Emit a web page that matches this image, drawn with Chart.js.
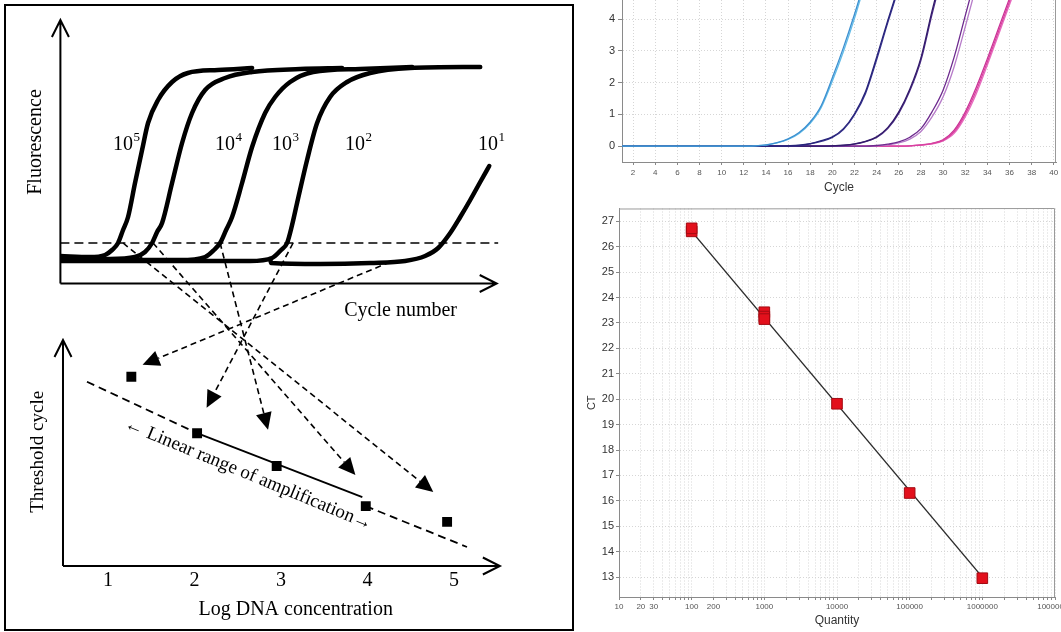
<!DOCTYPE html>
<html>
<head>
<meta charset="utf-8">
<script src="https://cdn.jsdelivr.net/npm/chart.js@4.4.0/dist/chart.umd.min.js"></script>
<style>
  html, body { margin: 0; padding: 0; background: #fff; }
  body { width: 1061px; height: 632px; overflow: hidden; position: relative; }
  #box { position: absolute; left: 4px; top: 4px; width: 570px; height: 627px; box-sizing: border-box; border: 2px solid #000; }
  canvas { position: absolute; }
  #schema { left: 0; top: 0; }
  #amp { left: 585px; top: 0; }
  #std { left: 580px; top: 200px; }
</style>
</head>
<body>
<div id="box"></div>
<canvas id="schema" width="575" height="632"></canvas>
<canvas id="amp" width="476" height="200"></canvas>
<canvas id="std" width="520" height="432"></canvas>
<script>
// ---------- left schematic: amplification curves (cycle, fluorescence) ----------
const cyc1e5 = [0, 3.0, 4.55, 5.27, 5.88, 6.39, 6.9, 7.61, 8.33, 8.94, 9.96, 11.39, 13.0, 16.08, 19.55];
const flu1e5 = [11.0, 10.6, 11.4, 13.4, 16.2, 21.4, 26.6, 40.2, 53.4, 64.2, 73.4, 80.6, 84.2, 85.4, 86.2];
const cyc1e4 = [0, 5.06, 7.61, 8.63, 9.35, 9.86, 10.37, 11.39, 12.41, 13.43, 14.76, 16.8, 19.55, 24.45, 28.73];
const flu1e4 = [9.8, 9.8, 10.6, 12.6, 16.2, 20.6, 24.2, 40.2, 56.2, 68.2, 77.4, 82.2, 84.6, 85.8, 86.2];
const cyc1e3 = [0, 12.2, 14.76, 15.67, 16.29, 16.9, 17.51, 18.53, 19.55, 20.88, 21.9, 23.43, 25.78, 30.57, 35.88];
const flu1e3 = [9.4, 9.4, 10.6, 13.4, 16.2, 21.4, 26.6, 40.2, 54.6, 68.2, 74.6, 80.6, 84.6, 85.8, 86.6];
const cyc1e2 = [0, 19.35, 21.59, 22.51, 23.12, 23.63, 24.14, 25.16, 26.18, 27.51, 29.24, 31.59, 35.67, 42.82];
const flu1e2 = [9.0, 9.0, 10.2, 13.4, 16.2, 23.4, 32.2, 49.4, 64.2, 74.6, 80.6, 84.2, 86.2, 86.6];
const cyc1e1 = [21.4, 21.49, 26.49, 31.59, 35.16, 37.2, 38.53, 39.76, 40.78, 41.8, 42.82, 43.74];
const flu1e1 = [9.8, 8.2, 7.8, 8.2, 9.0, 11.0, 14.2, 20.2, 26.6, 33.4, 40.6, 47.0];
const curveExp = [5, 4, 3, 2, 1];
const labelCycle = [5.36, 15.77, 21.59, 29.04, 42.6];
const labelFluor = 53.4;
const thresholdCycles = [0, 44.65];
const thresholdLevel = 16.2;

// threshold crossings -> threshold cycle plot
const connCycle = [6.39, 9.45, 16.29, 23.73, 33.63];
const connFluor = [16.2, 16.2, 16.2, 16.2, 8.6];
const arrowLog = [4.76, 3.86, 2.85, 2.14, 1.40];
const arrowCt = [13.1, 16.1, 24.1, 28.0, 35.6];

// standard curve (log DNA concentration, threshold cycle)
const sqLog = [1.27, 2.03, 2.95, 3.98, 4.92];
const sqCt = [33.5, 23.5, 17.7, 10.6, 7.8];
const trendLog = [0.757, 2.03, 3.0, 3.98, 5.15];
const trendCt = [32.6, 23.5, null, 10.6, 3.36];
const linearLog = [2.03, 3.94];
const linearCt = [23.5, 12.2];
const logTicks = [1, 2, 3, 4, 5];

// axis extents of the schematic
const topAxisCycle = [0, 44.5];
const topAxisFluor = [0, 105.4];
const botAxisLog = [0.48, 5.53];
const botAxisCt = [0, 40];

// ---------- top right: amplification plot ----------
const cycles = [1, 2, 3, 4, 5, 6, 7, 8, 9, 10, 11, 12, 13, 14, 15, 16, 17, 18, 19, 20,
  21, 22, 23, 24, 25, 26, 27, 28, 29, 30, 31, 32, 33, 34, 35, 36, 37, 38, 39, 40];
const cycleTicks = [2, 4, 6, 8, 10, 12, 14, 16, 18, 20, 22, 24, 26, 28, 30, 32, 34, 36, 38, 40];
const fluoTicks = [0, 1, 2, 3, 4];
const blue1 = [0, 0, 0, 0, 0, 0, 0, 0, 0, 0, 0, 0, 0.01, 0.04, 0.11, 0.23, 0.43, 0.76, 1.28, 2.15, 3.1, 4.15, 5.3];
const blue2 = [0, 0, 0, 0, 0, 0, 0, 0, 0, 0, 0, 0, 0.01, 0.03, 0.1, 0.21, 0.4, 0.72, 1.22, 2.05, 2.98, 4.02, 5.2];
const navy1 = [0, 0, 0, 0, 0, 0, 0, 0, 0, 0, 0, 0, 0, 0, 0, 0.01, 0.03, 0.08, 0.17, 0.29, 0.55, 1.02, 1.72, 2.8, 3.95, 5.05];
const navy2 = [0, 0, 0, 0, 0, 0, 0, 0, 0, 0, 0, 0, 0, 0, 0, 0.01, 0.02, 0.07, 0.15, 0.27, 0.52, 0.98, 1.66, 2.72, 3.88, 4.98];
const violet1 = [0, 0, 0, 0, 0, 0, 0, 0, 0, 0, 0, 0, 0, 0, 0, 0, 0, 0, 0, 0.01, 0.03, 0.07, 0.15, 0.29, 0.58, 1.08, 1.8, 2.78, 4.25, 5.6];
const violet2 = [0, 0, 0, 0, 0, 0, 0, 0, 0, 0, 0, 0, 0, 0, 0, 0, 0, 0, 0, 0.01, 0.02, 0.06, 0.14, 0.27, 0.55, 1.03, 1.74, 2.7, 4.15, 5.5];
const purple1 = [0, 0, 0, 0, 0, 0, 0, 0, 0, 0, 0, 0, 0, 0, 0, 0, 0, 0, 0, 0, 0, 0, 0, 0.02, 0.06, 0.13, 0.28, 0.55, 1.08, 1.76, 2.8, 4.1, 5.4];
const purple2 = [0, 0, 0, 0, 0, 0, 0, 0, 0, 0, 0, 0, 0, 0, 0, 0, 0, 0, 0, 0, 0, 0, 0, 0.01, 0.04, 0.1, 0.22, 0.46, 0.92, 1.55, 2.5, 3.75, 5.05];
const pink1 = [0, 0, 0, 0, 0, 0, 0, 0, 0, 0, 0, 0, 0, 0, 0, 0, 0, 0, 0, 0, 0, 0, 0, 0, 0, 0, 0.01, 0.03, 0.08, 0.18, 0.45, 1.0, 1.75, 2.65, 3.6, 4.55, 5.5];
const pink2 = [0, 0, 0, 0, 0, 0, 0, 0, 0, 0, 0, 0, 0, 0, 0, 0, 0, 0, 0, 0, 0, 0, 0, 0, 0, 0, 0.01, 0.03, 0.07, 0.16, 0.4, 0.92, 1.65, 2.55, 3.5, 4.45, 5.4];
const pink3 = [0, 0, 0, 0, 0, 0, 0, 0, 0, 0, 0, 0, 0, 0, 0, 0, 0, 0, 0, 0, 0, 0, 0, 0, 0, 0, 0.01, 0.04, 0.09, 0.2, 0.5, 1.07, 1.85, 2.75, 3.7, 4.65, 5.6];

// ---------- bottom right: standard curve ----------
const stdQty = [100, 100, 1000, 1000, 1000, 10000, 100000, 1000000];
const stdCt = [26.6, 26.72, 23.42, 23.25, 23.15, 19.82, 16.31, 12.96];
const fitQty = [100, 1000000];
const fitCt = [26.6, 13.0];
const ctTicks = [13, 14, 15, 16, 17, 18, 19, 20, 21, 22, 23, 24, 25, 26, 27];
const qtyLabels = [10, 20, 30, 100, 200, 1000, 10000, 100000, 1000000, 10000000];
const gridMantissas = [1, 2, 3, 4, 5, 6, 7, 8, 9];
const gridDecades = [10, 100, 1000, 10000, 100000, 1000000];

const serif = '"Liberation Serif", "DejaVu Serif", serif';
const sans = '"Liberation Sans", Arial, sans-serif';
Chart.defaults.font.family = sans;

function pts(xs, ys) {
  return xs.map((x, i) => ({ x: x, y: ys[i] }));
}

// ---- drawing helpers for the schematic ----
function openArrowAxis(ctx, x0, y0, x1, y1) {
  const a = Math.atan2(y1 - y0, x1 - x0);
  const len = 17, half = 8.5;
  ctx.beginPath();
  ctx.moveTo(x0, y0);
  ctx.lineTo(x1, y1);
  ctx.moveTo(x1 - len * Math.cos(a) + half * Math.sin(a), y1 - len * Math.sin(a) - half * Math.cos(a));
  ctx.lineTo(x1, y1);
  ctx.lineTo(x1 - len * Math.cos(a) - half * Math.sin(a), y1 - len * Math.sin(a) + half * Math.cos(a));
  ctx.stroke();
}

function dashedArrow(ctx, x0, y0, x1, y1) {
  const a = Math.atan2(y1 - y0, x1 - x0);
  const len = 17, half = 8;
  const bx = x1 - len * Math.cos(a), by = y1 - len * Math.sin(a);
  ctx.setLineDash([6, 4]);
  ctx.beginPath();
  ctx.moveTo(x0, y0);
  ctx.lineTo(bx, by);
  ctx.stroke();
  ctx.setLineDash([]);
  ctx.beginPath();
  ctx.moveTo(x1, y1);
  ctx.lineTo(bx + half * Math.sin(a), by - half * Math.cos(a));
  ctx.lineTo(bx - half * Math.sin(a), by + half * Math.cos(a));
  ctx.closePath();
  ctx.fill();
}

const schemaDecor = {
  id: 'schemaDecor',
  afterDatasetsDraw(chart) {
    const { ctx } = chart;
    const { xC, xL, yF, yC } = chart.scales;
    ctx.save();
    ctx.strokeStyle = '#000';
    ctx.fillStyle = '#000';
    ctx.lineWidth = 2;

    // axes
    const ox = xC.getPixelForValue(topAxisCycle[0]);
    const oy = yF.getPixelForValue(topAxisFluor[0]);
    openArrowAxis(ctx, ox, oy, ox, yF.getPixelForValue(topAxisFluor[1]));
    openArrowAxis(ctx, ox, oy, xC.getPixelForValue(topAxisCycle[1]), oy);
    const bx = xL.getPixelForValue(botAxisLog[0]);
    const by = yC.getPixelForValue(botAxisCt[0]);
    openArrowAxis(ctx, bx, by, bx, yC.getPixelForValue(botAxisCt[1]));
    openArrowAxis(ctx, bx, by, xL.getPixelForValue(botAxisLog[1]), by);

    // connectors from threshold crossings
    ctx.lineWidth = 1.6;
    connCycle.forEach((c, i) => {
      dashedArrow(ctx,
        xC.getPixelForValue(c), yF.getPixelForValue(connFluor[i]),
        xL.getPixelForValue(arrowLog[i]), yC.getPixelForValue(arrowCt[i]));
    });

    // curve labels 10^n
    ctx.textAlign = 'left';
    ctx.textBaseline = 'alphabetic';
    curveExp.forEach((e, i) => {
      const x = xC.getPixelForValue(labelCycle[i]);
      const y = yF.getPixelForValue(labelFluor);
      ctx.font = '20px ' + serif;
      ctx.fillText('10', x, y);
      const w = ctx.measureText('10').width;
      ctx.font = '13px ' + serif;
      ctx.fillText(String(e), x + w + 0.5, y - 9);
    });

    // axis titles and tick labels
    ctx.font = '20px ' + serif;
    ctx.textAlign = 'center';
    ctx.textBaseline = 'middle';
    ctx.fillText('Cycle number', xC.getPixelForValue(34.7), oy + 27);
    ctx.fillText('Log DNA concentration', xL.getPixelForValue(3.17), by + 44);
    logTicks.forEach(v => ctx.fillText(String(v), xL.getPixelForValue(v), by + 15));

    ctx.save();
    ctx.translate(ox - 25, yF.getPixelForValue(56.6));
    ctx.rotate(-Math.PI / 2);
    ctx.fillText('Fluorescence', 0, 0);
    ctx.restore();

    ctx.save();
    ctx.font = '19px ' + serif;
    ctx.translate(bx - 25, yC.getPixelForValue(20.2));
    ctx.rotate(-Math.PI / 2);
    ctx.fillText('Threshold cycle', 0, 0);
    ctx.restore();

    // linear range annotation
    ctx.save();
    ctx.font = '19px ' + serif;
    ctx.textBaseline = 'alphabetic';
    ctx.translate(xL.getPixelForValue(2.6), yC.getPixelForValue(15.4));
    ctx.rotate(22.5 * Math.PI / 180);
    ctx.fillText('\u2190 Linear range of amplification\u2192', 0, 0);
    ctx.restore();

    ctx.restore();
  }
};

function curveSet(xs, ys) {
  return {
    data: pts(xs, ys), xAxisID: 'xC', yAxisID: 'yF',
    borderColor: '#000', borderWidth: 4.5, pointRadius: 0,
    cubicInterpolationMode: 'monotone', borderCapStyle: 'round', borderJoinStyle: 'round'
  };
}

new Chart(document.getElementById('schema'), {
  type: 'line',
  data: {
    datasets: [
      {
        data: pts(sqLog, sqCt), xAxisID: 'xL', yAxisID: 'yC', showLine: false,
        pointStyle: 'rect', pointRadius: 7, backgroundColor: '#000', borderColor: '#000', borderWidth: 0
      },
      {
        data: pts(linearLog, linearCt), xAxisID: 'xL', yAxisID: 'yC',
        borderColor: '#000', borderWidth: 1.8, pointRadius: 0
      },
      {
        data: pts(trendLog, trendCt), xAxisID: 'xL', yAxisID: 'yC', spanGaps: false,
        borderColor: '#000', borderWidth: 1.8, borderDash: [8, 5], pointRadius: 0
      },
      {
        data: pts(thresholdCycles, [thresholdLevel, thresholdLevel]), xAxisID: 'xC', yAxisID: 'yF',
        borderColor: '#000', borderWidth: 1.5, borderDash: [9, 5], pointRadius: 0
      },
      curveSet(cyc1e5, flu1e5),
      curveSet(cyc1e4, flu1e4),
      curveSet(cyc1e3, flu1e3),
      curveSet(cyc1e2, flu1e2),
      curveSet(cyc1e1, flu1e1)
    ]
  },
  options: {
    responsive: false,
    animation: false,
    layout: { padding: { left: 60.4, right: 73.4, top: 15, bottom: 66 } },
    plugins: { legend: { display: false }, tooltip: { enabled: false } },
    scales: {
      xC: { type: 'linear', display: false, min: 0, max: 45 },
      xL: { type: 'linear', display: false, min: 0.45, max: 5.55 },
      yF: { type: 'linear', display: false, min: -113, max: 107.4 },
      yC: { type: 'linear', display: false, min: 0, max: 97.5 }
    }
  },
  plugins: [schemaDecor]
});

// ---------- frame for the software-style plots ----------
const plotFrame = {
  id: 'plotFrame',
  afterDraw(chart, args, opts) {
    const { ctx, chartArea: a } = chart;
    ctx.save();
    ctx.strokeStyle = '#9a9a9a';
    ctx.lineWidth = 1;
    ctx.beginPath();
    ctx.moveTo(a.right - 0.5, a.bottom);
    ctx.lineTo(a.right - 0.5, a.top);
    if (opts.top) ctx.lineTo(a.left, a.top + 0.5);
    ctx.stroke();
    ctx.restore();
  }
};

const ampSeries = [
  { values: blue1, color: '#3b8fd0' },
  { values: blue2, color: '#62bce8' },
  { values: navy1, color: '#27237a' },
  { values: navy2, color: '#3a3590' },
  { values: violet1, color: '#321a6a' },
  { values: violet2, color: '#4b2c86' },
  { values: purple1, color: '#6d2a8e' },
  { values: purple2, color: '#b77cc9' },
  { values: pink1, color: '#d9409f' },
  { values: pink2, color: '#e86cc0' },
  { values: pink3, color: '#c93396' }
];

new Chart(document.getElementById('amp'), {
  type: 'line',
  data: {
    datasets: ampSeries.map(s => ({
      data: s.values.map((v, i) => ({ x: cycles[i], y: v })),
      borderColor: s.color, borderWidth: 1.3, pointRadius: 0,
      cubicInterpolationMode: 'monotone'
    }))
  },
  options: {
    responsive: false,
    animation: false,
    layout: { padding: { left: 0, right: 5, top: 0, bottom: 0 } },
    plugins: { legend: { display: false }, tooltip: { enabled: false }, plotFrame: { top: false } },
    scales: {
      x: {
        type: 'linear', min: 1, max: 40.2,
        afterBuildTicks: ax => { ax.ticks = cycleTicks.map(v => ({ value: v })); },
        afterFit: ax => { ax.height = 38; ax.paddingLeft = 0; ax.paddingRight = 0; },
        grid: { color: '#d6d6d6', tickColor: '#888', tickLength: 3 },
        border: { color: '#8a8a8a', dash: [1, 2] },
        ticks: { autoSkip: false, maxRotation: 0, padding: 3, color: '#555', font: { size: 8 } },
        title: { display: true, text: 'Cycle', color: '#333', font: { size: 12 }, padding: { top: 0, bottom: 5 } }
      },
      y: {
        type: 'linear', min: -0.5, max: 4.6,
        afterBuildTicks: ax => { ax.ticks = fluoTicks.map(v => ({ value: v })); },
        afterFit: ax => { ax.width = 37; ax.paddingTop = 0; ax.paddingBottom = 0; },
        grid: { color: '#d6d6d6', tickColor: '#888', tickLength: 4 },
        border: { color: '#8a8a8a', dash: [1, 2] },
        ticks: { padding: 3, color: '#333', font: { size: 11 } }
      }
    }
  },
  plugins: [plotFrame]
});

// ---------- standard curve ----------
const qtyGrid = [];
gridDecades.forEach(d => gridMantissas.forEach(m => qtyGrid.push(m * d)));
qtyGrid.push(10000000);

new Chart(document.getElementById('std'), {
  type: 'line',
  data: {
    datasets: [
      {
        data: pts(stdQty, stdCt), showLine: false, pointStyle: 'rect', pointRadius: 7.5,
        backgroundColor: '#e3101c', borderColor: '#a30a12', borderWidth: 1
      },
      {
        data: pts(fitQty, fitCt), borderColor: '#2a2a2a', borderWidth: 1.4, pointRadius: 0
      }
    ]
  },
  options: {
    responsive: false,
    animation: false,
    layout: { padding: { left: 0, right: 45, top: 5, bottom: 0 } },
    plugins: { legend: { display: false }, tooltip: { enabled: false }, plotFrame: { top: true } },
    scales: {
      x: {
        type: 'logarithmic', min: 10, max: 10000000,
        afterBuildTicks: ax => { ax.ticks = qtyGrid.map(v => ({ value: v })); },
        afterFit: ax => { ax.height = 35; ax.paddingLeft = 0; ax.paddingRight = 0; },
        grid: { color: '#d6d6d6', tickColor: '#888', tickLength: 3 },
        border: { color: '#8a8a8a', dash: [1, 2] },
        ticks: {
          autoSkip: false, maxRotation: 0, padding: 2, color: '#555', font: { size: 8 },
          callback: v => qtyLabels.includes(v) ? String(v) : ''
        },
        title: { display: true, text: 'Quantity', color: '#333', font: { size: 12 }, padding: { top: 0, bottom: 4 } }
      },
      y: {
        type: 'linear', min: 12.22, max: 27.5,
        afterBuildTicks: ax => { ax.ticks = ctTicks.map(v => ({ value: v })); },
        afterFit: ax => { ax.width = 39; ax.paddingTop = 0; ax.paddingBottom = 0; },
        grid: { color: '#d6d6d6', tickColor: '#888', tickLength: 3 },
        border: { color: '#8a8a8a', dash: [1, 2] },
        ticks: { padding: 2, color: '#333', font: { size: 11 } },
        title: { display: true, text: 'CT', color: '#333', font: { size: 11 }, padding: { top: 5, bottom: 0 } }
      }
    }
  },
  plugins: [plotFrame]
});
</script>
</body>
</html>
